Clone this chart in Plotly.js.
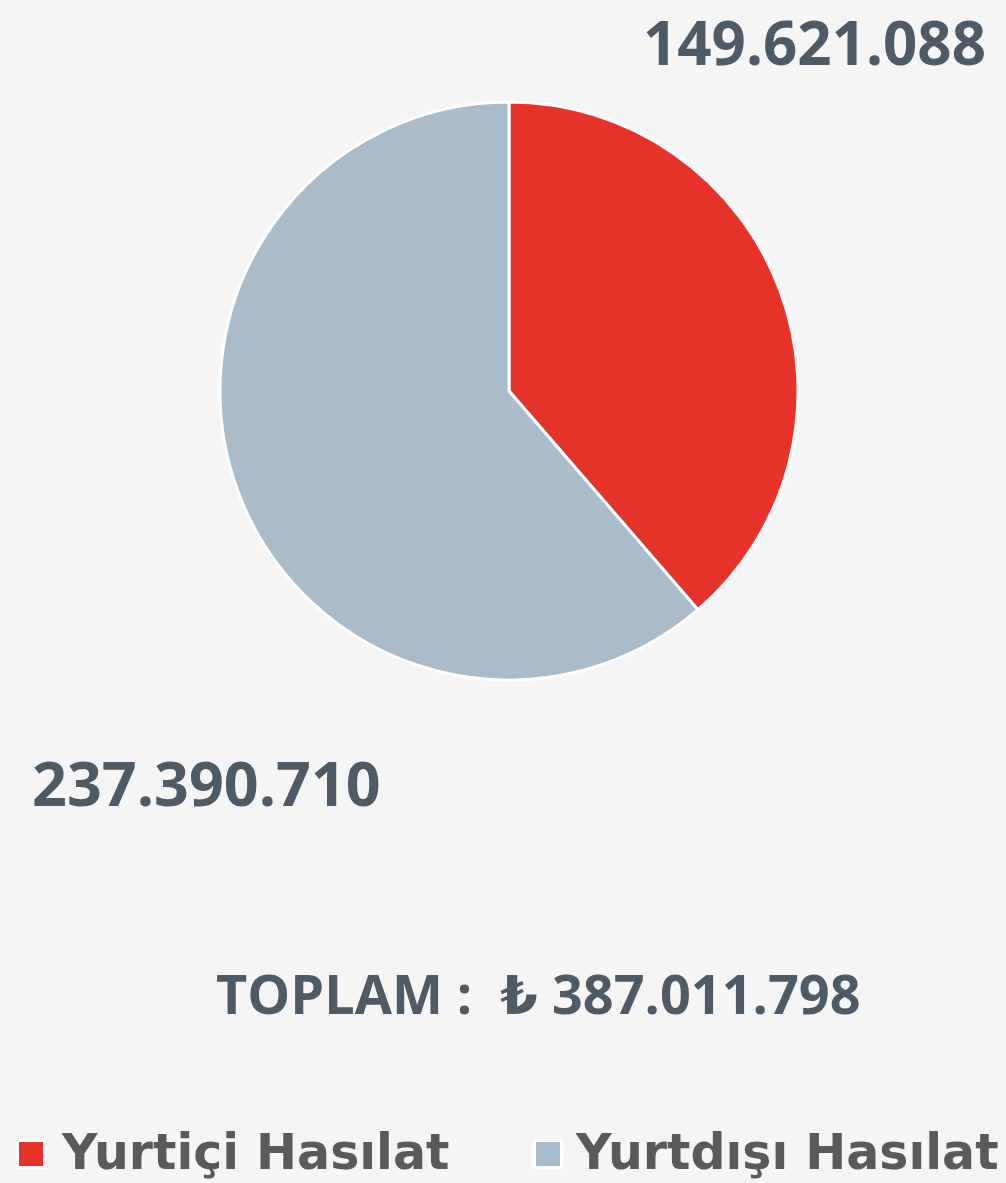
<!DOCTYPE html>
<html>
<head>
<meta charset="utf-8">
<script src="https://cdn.plot.ly/plotly-3.0.1.min.js"></script>
<style>
  html, body { margin: 0; padding: 0; background: #f5f5f5; }
  #chart { width: 1006px; height: 1183px; }
</style>
</head>
<body>
<div id="chart"></div>
<script>
const categories = ["Yurtiçi Hasılat", "Yurtdışı Hasılat"];
const revenues = [149621088, 237390710];
const sliceColors = ["#e5332a", "#aabcca"];
const totalLabel = "TOPLAM :  ₺ ";

function fmt(n) {
  return String(n).replace(/\B(?=(\d{3})+(?!\d))/g, ".");
}
const total = revenues.reduce((a, b) => a + b, 0);

const W = 1006, H = 1183;
const px = x => x / W;
const py = y => (H - y) / H;

const valueFont = { family: "Open Sans, DejaVu Sans, sans-serif", size: 60, color: "#4e5b66", weight: 700 };
const legendFont = { family: "DejaVu Sans, sans-serif", size: 49, color: "#5a5a5a", weight: 700 };

const trace = {
  type: "pie",
  labels: categories,
  values: revenues,
  sort: false,
  direction: "clockwise",
  rotation: 0,
  textinfo: "none",
  hoverinfo: "label+value",
  showlegend: false,
  marker: { colors: sliceColors, line: { color: "#ffffff", width: 3 } },
  domain: { x: [px(220), px(798)], y: [py(680), py(102)] }
};

const legendSquareX = [31, 548];
const legendTextX = [59, 573];
const legendY = 1152;

const annotations = [
  { text: fmt(revenues[0]), xref: "paper", yref: "paper", x: px(988), y: py(42),
    xanchor: "right", yanchor: "middle", showarrow: false, font: valueFont },
  { text: fmt(revenues[1]), xref: "paper", yref: "paper", x: px(30), y: py(782),
    xanchor: "left", yanchor: "middle", showarrow: false,
    font: Object.assign({}, valueFont, { size: 61 }) },
  { text: totalLabel + fmt(total), xref: "paper", yref: "paper", x: px(538), y: py(993),
    xanchor: "center", yanchor: "middle", showarrow: false,
    font: { family: "Open Sans, DejaVu Sans, sans-serif", size: 54, color: "#4e5b66", weight: 700 } }
];

categories.forEach(function (c, i) {
  annotations.push({
    text: " ", xref: "paper", yref: "paper", x: px(legendSquareX[i]), y: py(legendY + 2),
    xanchor: "center", yanchor: "middle", showarrow: false,
    width: 24, height: 24, bgcolor: sliceColors[i], bordercolor: "#ffffff", borderwidth: 3, borderpad: 0,
    font: { size: 10 }
  });
  annotations.push({
    text: c, xref: "paper", yref: "paper", x: px(legendTextX[i]), y: py(legendY),
    xanchor: "left", yanchor: "middle", showarrow: false, font: legendFont
  });
});

const layout = {
  width: W,
  height: H,
  margin: { l: 0, r: 0, t: 0, b: 0, autoexpand: false },
  paper_bgcolor: "#f5f5f5",
  plot_bgcolor: "#f5f5f5",
  showlegend: false,
  annotations: annotations
};

Plotly.newPlot("chart", [trace], layout, { displayModeBar: false, staticPlot: true });
</script>
</body>
</html>
